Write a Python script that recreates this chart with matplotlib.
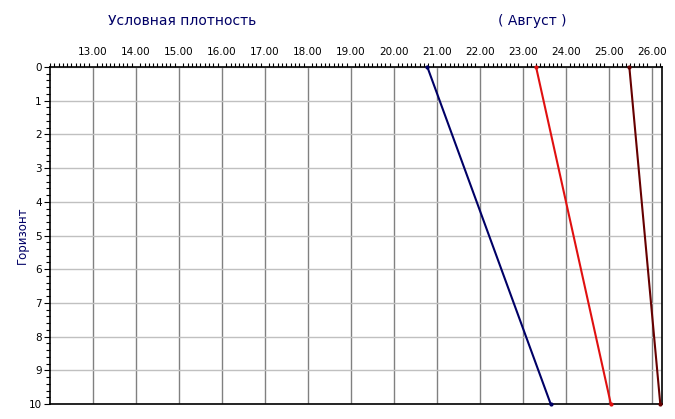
import numpy as np
import matplotlib
matplotlib.use("Agg")
from matplotlib import pyplot as plt
from matplotlib.ticker import MultipleLocator

# horizon levels (top and bottom) and density values per series
horizon = [0, 10]
blue = [20.78, 23.65]
red = [23.31, 25.05]
darkred = [25.48, 26.20]
colors = ["#000066", "#e01010", "#660000"]
xticks = np.arange(13, 27)

fig = plt.figure(figsize=(6.75, 4.19), dpi=100)
ax = fig.add_axes([50/675, 1-404/419, 612/675, 337/419])

ax.grid(axis="x", color="#808080", lw=1)
ax.grid(axis="y", color="#c0c0c0", lw=1)
ax.set_axisbelow(True)

for vals, c in zip([blue, red, darkred], colors):
    ax.plot(vals, horizon, color=c, lw=1.5, marker="o", ms=2, clip_on=False, zorder=3)

ax.set_xlim(12.0, 26.24)
ax.set_ylim(10, 0)
ax.xaxis.tick_top()
ax.set_xticks(xticks)
ax.set_xticklabels(["%.2f" % v for v in xticks])
ax.xaxis.set_minor_locator(MultipleLocator(0.1))
ax.set_yticks(range(11))
ax.yaxis.set_minor_locator(MultipleLocator(0.2))
ax.tick_params(axis="x", which="major", length=0, pad=7, labelsize=7.5)
ax.tick_params(axis="x", which="minor", length=3, width=0.8)
ax.tick_params(axis="y", which="major", length=4, labelsize=7.5, pad=2)
ax.tick_params(axis="y", which="minor", length=3, width=0.8)
for s in ax.spines.values():
    s.set_linewidth(1.2)

ax.set_ylabel("Горизонт", color="#000066", fontsize=8.5, labelpad=0)
fig.text(182/675, 1-21/419, "Условная плотность", color="#000066", fontsize=10, ha="center", va="center")
fig.text(532/675, 1-21/419, "( Август )", color="#000066", fontsize=10, ha="center", va="center")

fig.savefig("out.png", dpi=100)
